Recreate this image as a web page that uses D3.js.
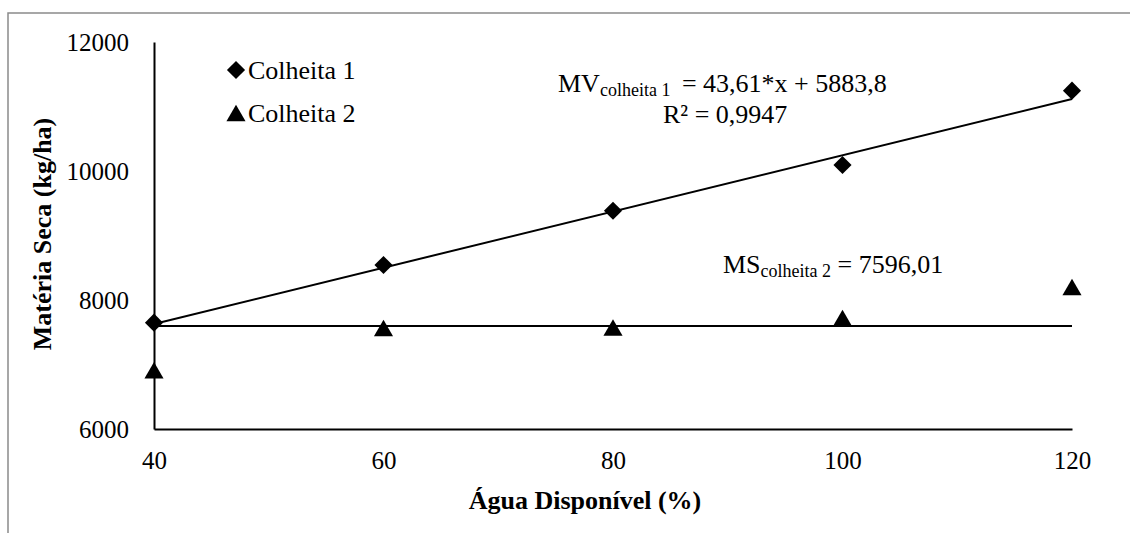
<!DOCTYPE html>
<html>
<head>
<meta charset="utf-8">
<script src="https://cdn.jsdelivr.net/npm/d3@7"></script>
<style>
  body { margin: 0; background: #fff; }
  svg text { font-family: "Liberation Serif", "Times New Roman", serif; }
</style>
</head>
<body>
<div id="chart"></div>
<script>
// values
let water = [40, 60, 80, 100, 120]
let colheita1 = [7648, 8543, 9384, 10093, 11245]
let colheita2 = [6910, 7566, 7574, 7721, 8200]
let xTicks = [40, 60, 80, 100, 120]
let yTicks = [6000, 8000, 10000, 12000]
let seriesNames = ['Colheita 1', 'Colheita 2']
let fit1 = { slope: 43.61, intercept: 5883.8 }
let mean2 = 7596.01

let width = 1130, height = 533
let margin = { top: 42, right: 58, bottom: 104, left: 154 }
let plot_width = width - margin.left - margin.right
let plot_height = height - margin.top - margin.bottom
let serif = 'Liberation Serif'

let svg = d3.select('#chart').append('svg')
  .attr('width', width)
  .attr('height', height)
  .attr('font-family', serif)

// outer frame, runs off the right and bottom edge
svg.append('rect')
  .attr('x', 8).attr('y', 13)
  .attr('width', 1140).attr('height', 540)
  .attr('fill', 'none')
  .attr('stroke', '#8a8a8a')
  .attr('stroke-width', 1.5)

let xScale = d3.scaleLinear().domain([40, 120]).range([0, plot_width])
let yScale = d3.scaleLinear().domain([6000, 12000]).range([plot_height, 0])

let g = svg.append('g')
  .attr('transform', `translate(${margin.left},${margin.top})`)

let xAxis = d3.axisBottom(xScale).tickValues(xTicks).tickFormat(d3.format('d')).tickSize(0).tickPadding(22)
let yAxis = d3.axisLeft(yScale).tickValues(yTicks).tickFormat(d3.format('d')).tickSize(0).tickPadding(25)

let xg = g.append('g').attr('transform', `translate(0,${plot_height})`).call(xAxis)
let yg = g.append('g').call(yAxis)

;[xg, yg].forEach(a => {
  a.attr('font-family', serif).attr('font-size', null)
  a.select('.domain').attr('stroke', '#000').attr('stroke-width', 2)
  a.selectAll('text').attr('font-family', serif).attr('font-size', '25px').attr('fill', '#000')
})

// trend lines
let line = d3.line().x(d => xScale(d[0])).y(d => yScale(d[1]))
let x0 = d3.min(water), x1 = d3.max(water)
g.append('path')
  .datum([[x0, fit1.slope * x0 + fit1.intercept], [x1, fit1.slope * x1 + fit1.intercept]])
  .attr('d', line)
  .attr('stroke', '#000').attr('stroke-width', 2).attr('fill', 'none')
g.append('path')
  .datum([[x0, mean2], [x1, mean2]])
  .attr('d', line)
  .attr('stroke', '#000').attr('stroke-width', 2).attr('fill', 'none')

// markers
let diamond = d3.symbol().type(d3.symbolSquare).size(165)
let triangle = d3.symbol().type(d3.symbolTriangle).size(158)

g.selectAll('.m1').data(water)
  .enter().append('path')
  .attr('class', 'm1')
  .attr('d', diamond)
  .attr('transform', (d, i) => `translate(${xScale(d)},${yScale(colheita1[i])}) rotate(45)`)
  .attr('fill', '#000')

g.selectAll('.m2').data(water)
  .enter().append('path')
  .attr('class', 'm2')
  .attr('d', triangle)
  .attr('transform', (d, i) => `translate(${xScale(d)},${yScale(colheita2[i]) + 2.7})`)
  .attr('fill', '#000')

// legend
let legend = svg.append('g').attr('transform', 'translate(236,70)')
legend.append('path').attr('d', diamond).attr('transform', 'rotate(45)').attr('fill', '#000')
legend.append('path').attr('d', triangle).attr('transform', 'translate(0,45.7)').attr('fill', '#000')
legend.selectAll('text').data(seriesNames)
  .enter().append('text')
  .attr('x', 12)
  .attr('y', (d, i) => 9 + i * 43)
  .attr('font-size', '26px')
  .text(d => d)

// equations
let eq1 = svg.append('text').attr('x', 558).attr('y', 92).attr('font-size', '26px')
eq1.append('tspan').text('MV')
eq1.append('tspan').attr('font-size', '18px').attr('dy', 4).text('colheita 1')
eq1.append('tspan').attr('dy', -4).attr('dx', 5).text(' = 43,61*x + 5883,8')

svg.append('text').attr('x', 663).attr('y', 123).attr('font-size', '26px').text('R² = 0,9947')

let eq2 = svg.append('text').attr('x', 723).attr('y', 273).attr('font-size', '26px')
eq2.append('tspan').text('MS')
eq2.append('tspan').attr('font-size', '18px').attr('dy', 4).text('colheita 2')
eq2.append('tspan').attr('dy', -4).text(' = 7596,01')

// axis titles
svg.append('text')
  .attr('x', 585).attr('y', 509)
  .attr('text-anchor', 'middle')
  .attr('font-size', '26px').attr('font-weight', 'bold')
  .text('Água Disponível (%)')

svg.append('text')
  .attr('transform', 'translate(51,234) rotate(-90)')
  .attr('text-anchor', 'middle')
  .attr('font-size', '26px').attr('font-weight', 'bold')
  .text('Matéria Seca (kg/ha)')
</script>
</body>
</html>
